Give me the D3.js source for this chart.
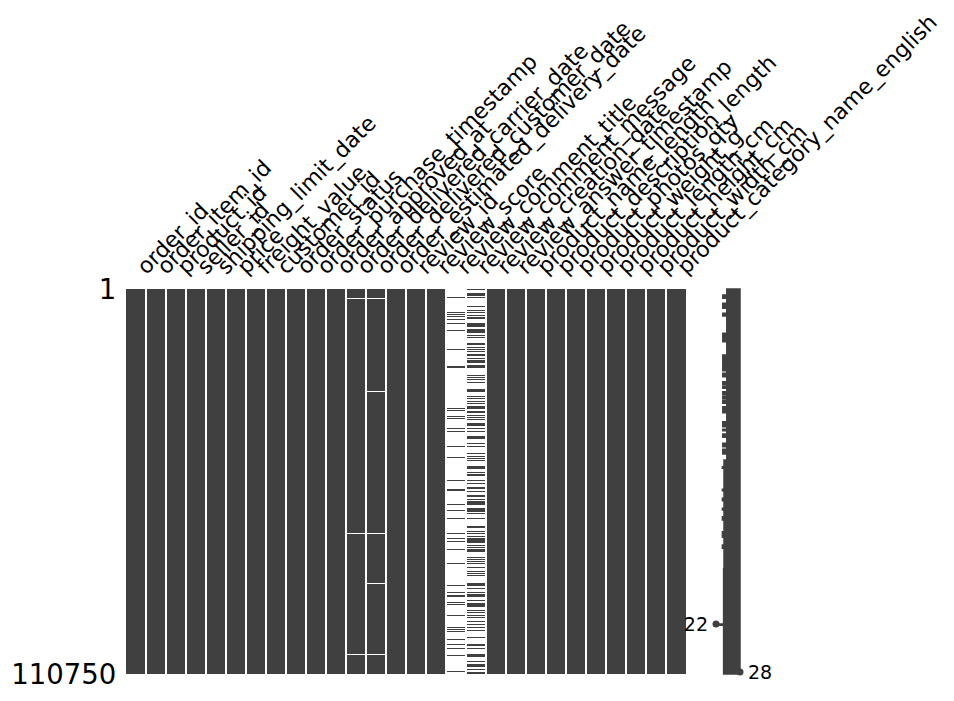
<!DOCTYPE html>
<html><head><meta charset="utf-8">
<script src="https://cdn.jsdelivr.net/npm/d3@7"></script>
<style>
body{margin:0;background:#fff}
svg{display:block}
text{font-family:"DejaVu Sans",sans-serif;fill:#000}
</style>
</head><body>
<svg id="chart" width="954" height="701"></svg>
<script>
// ---------------- data ----------------
const columns = [
  "order_id","order_item_id","product_id","seller_id","shipping_limit_date","price",
  "freight_value","customer_id","order_status","order_purchase_timestamp","order_approved_at",
  "order_delivered_carrier_date","order_delivered_customer_date","order_estimated_delivery_date",
  "review_id","review_score","review_comment_title","review_comment_message","review_creation_date",
  "review_answer_timestamp","product_name_length","product_description_length","product_photos_qty",
  "product_weight_g","product_length_cm","product_height_cm","product_width_cm",
  "product_category_name_english"
];
const nRows = 110750;
const rowTickLabels = ["1", "110750"];

// rows with missing values (white lines) in otherwise complete columns
const missingCarrierDate = [2675, 70276, 105083];
const missingCustomerDate = [2675, 29341, 70276, 84658, 105083];

// row ranges with present values in mostly empty columns
const presentCommentTitle = [
  [2388,2388],[6530,6530],[7105,7105],[7767,7767],[8543,8543],[9867,9867],[11880,11880],
  [17346,17346],[22150,22725],[34318,34318],[34893,34893],[36533,36533],[37194,37194],
  [40071,40071],[40762,40762],[45249,45249],[48413,48413],[55029,55029],[57446,57446],
  [57906,57906],[61933,61933],[63717,63717],[65960,65960],[70276,70276],[71714,71714],
  [72490,72490],[74878,74878],[78905,78905],[85205,85205],[87305,87305],[88024,88600],
  [89952,89952],[90556,90556],[93835,93835],[97287,97287],[97862,97862],[98437,98437],
  [100768,100768],[102206,102206],[103357,103357],[105341,105341],[109944,109944]
];
const presentCommentMessage = [
  [0,400],[1064,2014],[2388,2388],[4890,4890],[6041,6041],[6703,6703],[7393,7393],
  [7968,8716],[9694,10845],[11593,12571],[13232,13232],[13894,13894],[15447,16023],
  [16598,16598],[17260,17260],[17921,17921],[18611,19186],[19934,19934],[20424,21200],
  [21862,22639],[24739,24739],[25401,25401],[25976,25976],[26667,26667],[28766,29542],
  [30779,30779],[31440,31440],[32131,32131],[32880,32880],[33656,34433],[35008,35584],
  [36245,36245],[36907,36907],[37482,37482],[38633,39323],[40071,40071],[40762,40762],
  [42286,43063],[44386,44386],[45076,45076],[47262,47262],[47953,47953],[48614,48614],
  [49277,49277],[50916,51693],[52556,53016],[53304,53793],[54943,54943],[55720,55720],
  [56871,57619],[58021,58021],[59258,59747],[60323,60323],[60985,62135],[63083,64054],
  [64522,64522],[65960,65960],[68175,68838],[69614,69614],[70276,70276],[71052,71052],
  [71541,72979],[73641,73641],[74303,74303],[74878,75569],[77007,77007],[77582,77582],
  [78244,78244],[78905,78905],[79884,79884],[81120,81120],[81782,81782],[82358,82358],
  [84658,85349],[86097,86097],[87075,87075],[87823,88514],[89462,89462],[90412,91390],
  [92339,92339],[93001,93001],[93691,93691],[94266,94266],[95417,95417],[96366,96366],
  [97143,97143],[98092,98092],[100192,100192],[102120,102609],[103357,103357],
  [104997,105773],[106923,106923],[107873,108650],[109397,109397],[110088,110088],
  [110500,110749]
];

// sparkline: row-wise completeness envelope (lowest value reached from each row on)
const sparkRows = [
  0,1726,2675,4114,5552,6990,7767,12743,15160,18986,20913,21373,22150,22524,23502,
  24250,25228,26666,27615,28104,28565,29543,30492,30981,31643,32131,32880,33858,35584,
  38173,39611,40359,40762,41711,42660,44386,45364,46112,47464,49190,
  51117,51578,57618,58021,60207,60897,63083,63573,65500,66449,69815,71426,73641,74591,
  80500,96366,96700,110750
];
const sparkLow = [
  24.7,23.7,24.7,23.7,24.7,23.7,24.7,23.7,24.7,23.7,24.7,23.7,24.7,23.7,24.7,
  23.7,24.7,23.7,24.7,23.7,24.7,23.7,24.7,23.7,24.7,23.7,24.7,23.7,24.7,
  23.7,24.7,23.7,24.7,23.7,24.7,23.7,24.7,23.7,24.7,24.0,
  23.6,24.0,23.6,24.0,23.6,24.0,23.6,24.0,23.6,24.0,23.6,24.0,23.6,24.0,
  23.9,22,23.9,23.9
];
const minCompleteness = 22, maxCompleteness = 28;
const minCompletenessRow = 96366, maxCompletenessRow = 110174;

// ---------------- drawing ----------------
const dark = "rgb(64,64,64)";
const svg = d3.select("#chart");
const mTop = 289, mBottom = 674;

const x = d3.scaleBand().domain(columns).range([126, 686]);
const y = d3.scaleLinear().domain([0, nRows]).range([mTop, mBottom]);
const bw = x.bandwidth();

const table = columns.map(c => ({name: c, base: "full", marks: [], markColor: "white"}));
table[columns.indexOf("order_delivered_carrier_date")].marks = missingCarrierDate.map(r => [r, r]);
table[columns.indexOf("order_delivered_customer_date")].marks = missingCustomerDate.map(r => [r, r]);
Object.assign(table[columns.indexOf("review_comment_title")], {base: "empty", marks: presentCommentTitle, markColor: dark});
Object.assign(table[columns.indexOf("review_comment_message")], {base: "empty", marks: presentCommentMessage, markColor: dark});

const mat = svg.append("g");
const colG = mat.selectAll("g.col").data(table).join("g").attr("class", "col");
colG.append("rect")
  .attr("x", d => x(d.name)).attr("y", mTop)
  .attr("width", bw).attr("height", mBottom - mTop)
  .attr("fill", d => d.base === "full" ? dark : "white");
colG.each(function(d) {
  d3.select(this).selectAll("rect.m").data(d.marks).join("rect").attr("class", "m")
    .attr("x", x(d.name)).attr("width", bw)
    .attr("y", m => y(m[0]))
    .attr("height", m => Math.max(1, y(m[1] + 1) - y(m[0])))
    .attr("fill", d.markColor)
    .attr("shape-rendering", "crispEdges");
});
// white column separators
mat.selectAll("line.sep").data(columns.slice(1)).join("line").attr("class", "sep")
  .attr("x1", c => x(c)).attr("x2", c => x(c))
  .attr("y1", mTop).attr("y2", mBottom)
  .attr("stroke", "white").attr("stroke-width", 2);

// column labels, rotated 45°
const fs = 22, pad = 9.7;
svg.append("g").selectAll("text").data(columns).join("text")
  .attr("transform", c => `translate(${x(c) + bw / 2 + 0.707 * 0.76 * fs - 1.5},${mTop - pad - 0.707 * 0.24 * fs}) rotate(-45)`)
  .attr("font-size", fs)
  .text(c => c);

// row tick labels
const rowTicks = [0, nRows - 1];
svg.append("g").selectAll("text").data(rowTicks).join("text")
  .attr("x", 126 - pad).attr("y", r => y(r + 0.5))
  .attr("dy", "0.36em")
  .attr("text-anchor", "end")
  .attr("font-size", 27.5)
  .text((r, i) => rowTickLabels[i]);

// sparkline
const xs = d3.scaleLinear().domain([minCompleteness - 2, maxCompleteness + 2]).range([708, 748]);
const sparkData = sparkRows.map((r, i) => ({row: r, low: sparkLow[i]}));
const area = d3.area()
  .y(d => y(d.row))
  .x0(d => xs(d.low))
  .x1(xs(maxCompleteness))
  .curve(d3.curveStepBefore);
svg.append("path").datum(sparkData)
  .attr("d", area)
  .attr("fill", dark)
  .attr("stroke", dark)
  .attr("stroke-width", 1.5)
  .attr("stroke-linejoin", "miter");

svg.append("circle").attr("cx", xs(minCompleteness)).attr("cy", y(minCompletenessRow)).attr("r", 3.5).attr("fill", dark);
svg.append("circle").attr("cx", xs(maxCompleteness)).attr("cy", y(maxCompletenessRow)).attr("r", 3.5).attr("fill", dark);

svg.append("text").attr("x", xs(maxCompleteness + 2)).attr("y", y(maxCompletenessRow))
  .attr("dy", "0.36em").attr("font-size", 19).text(maxCompleteness);
svg.append("text").attr("x", xs(minCompleteness - 2)).attr("y", y(minCompletenessRow))
  .attr("dy", "0.36em").attr("text-anchor", "end").attr("font-size", 19).text(minCompleteness);
</script>
</body></html>
